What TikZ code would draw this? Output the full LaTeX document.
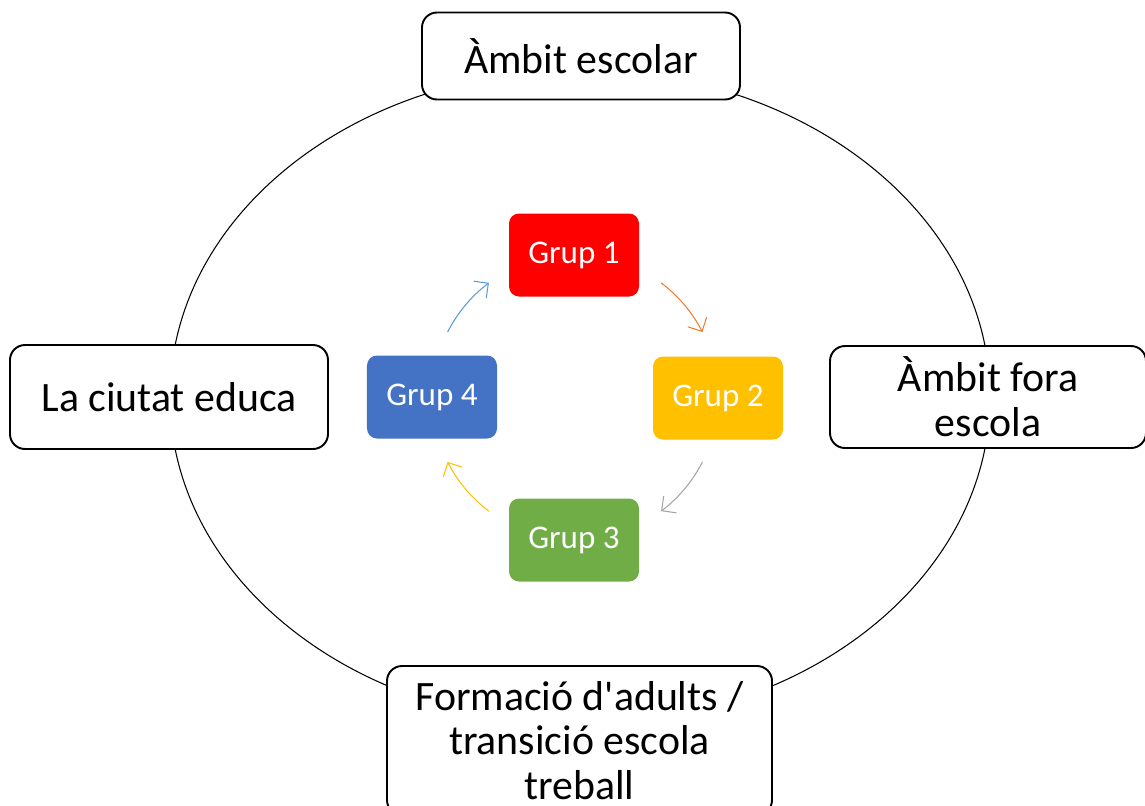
\documentclass[tikz,border=0pt]{standalone}
\usepackage{fontspec}
\setmainfont{Carlito}
\usepackage{tikz}
\usetikzlibrary{arrows,arrows.meta}

\definecolor{grpred}{HTML}{FF0000}
\definecolor{grpyellow}{HTML}{FFC000}
\definecolor{grpgreen}{HTML}{70AD47}
\definecolor{grpblue}{HTML}{4472C4}
\definecolor{arrorange}{HTML}{ED7D31}
\definecolor{arrgray}{HTML}{A5A5A5}
\definecolor{arrblue}{HTML}{5B9BD5}

\begin{document}
\begin{tikzpicture}[
area/.style={draw,line width=1.1pt,fill=white,rounded corners=0.3cm,align=center,
  font=\fontsize{23.8}{25.5}\selectfont,minimum width=6.36cm,inner sep=2pt},
grp/.style={rounded corners=0.2cm,text=white,minimum width=2.6cm,minimum height=1.66cm,
  font=\fontsize{18.8}{22}\selectfont},
cyc/.style={-{Straight Barb[length=6pt,width=12pt]},line width=0.6pt} ]

\useasboundingbox (-11.6,7.94) rectangle (11.3,-8.16);

\coordinate (ctr) at (-0.1,0);

\draw[line width=0.6pt] (0,0) ellipse [x radius=8.2cm, y radius=6.54cm];

\node[area,minimum height=1.74cm] (escolar) at (0.02,6.82) {Àmbit escolar};

\node[area,minimum height=2.08cm] (ciutat) at (-8.22,0) {La ciutat educa};

\node[area,minimum height=2.04cm,minimum width=6.32cm] (fora) at (8.16,0) {Àmbit fora\\escola};

\node[area,minimum height=2.98cm,minimum width=7.7cm] (adults) at (-0.01,-6.87) {Formació d\textquotesingle adults /\\transició escola\\treball};

\node[grp,fill=grpred] (g1) at (-0.12,2.84) {Grup 1};

\node[grp,fill=grpyellow] (g2) at (2.76,-0.02) {Grup 2};

\node[grp,fill=grpgreen] (g3) at (-0.12,-2.86) {Grup 3};

\node[grp,fill=grpblue] (g4) at (-2.96,0) {Grup 4};

\draw[cyc,draw=arrorange] ([shift={(53:2.86)}]ctr) arc[start angle=53,end angle=27,radius=2.86];

\draw[cyc,draw=arrgray] ([shift={(-27:2.86)}]ctr) arc[start angle=-27,end angle=-53,radius=2.86];

\draw[cyc,draw=grpyellow] ([shift={(-127:2.86)}]ctr) arc[start angle=-127,end angle=-153,radius=2.86];

\draw[cyc,draw=arrblue] ([shift={(153:2.86)}]ctr) arc[start angle=153,end angle=127,radius=2.86];


\end{tikzpicture}
\end{document}
